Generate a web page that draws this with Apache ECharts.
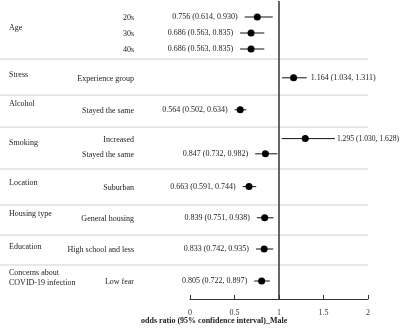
<!DOCTYPE html>
<html>
<head>
<meta charset="utf-8">
<script src="https://cdn.jsdelivr.net/npm/echarts@6/dist/echarts.min.js"></script>
<style>
  html, body { margin: 0; padding: 0; background: #fff; }
  #forest-chart { width: 400px; height: 331px; }
</style>
</head>
<body>
<div id="forest-chart"></div>
<script>
// data
const groupNames = ['Age', 'Stress', 'Alcohol', 'Smoking', 'Location', 'Housing type', 'Education', 'Concerns about\nCOVID-19 infection']
const itemNames = ['20s', '30s', '40s', 'Experience group', 'Stayed the same', 'Increased', 'Stayed the same', 'Suburban', 'General housing', 'High school and less', 'Low fear']
const oddsRatio = [0.756, 0.686, 0.686, 1.164, 0.564, 1.295, 0.847, 0.663, 0.839, 0.833, 0.805]
const ciLow = [0.614, 0.563, 0.563, 1.034, 0.502, 1.030, 0.732, 0.591, 0.751, 0.742, 0.722]
const ciHigh = [0.930, 0.835, 0.835, 1.311, 0.634, 1.628, 0.982, 0.744, 0.938, 0.935, 0.897]
const xTicks = [0, 0.5, 1, 1.5, 2]

// layout: vertical slot of each row / group label / separator (in row units)
const rowPos = [1, 2, 3, 4.8, 6.8, 8.6, 9.55, 11.6, 13.55, 15.5, 17.5]
const groupPos = [1.7, 4.65, 6.45, 8.9, 11.4, 13.3, 15.4, 17.3]
const sepPos = [3.63, 5.88, 7.88, 10.5, 12.75, 14.63, 16.5]

const FONT = '"Liberation Serif", "Times New Roman", serif'
const TEXT_COLOR = '#222'

// measure text to keep right side labels inside the canvas
const measureCtx = document.createElement('canvas').getContext('2d')
measureCtx.font = '8px ' + FONT
function textWidth (s) {
  return measureCtx.measureText(s).width
}

function ciLabel (i) {
  return oddsRatio[i].toFixed(3) + ' (' + ciLow[i].toFixed(3) + ', ' + ciHigh[i].toFixed(3) + ')'
}

const chart = echarts.init(document.getElementById('forest-chart'))

const option = {
  animation: false,
  textStyle: { fontFamily: FONT },
  grid: { left: 190, right: 32, top: 1, bottom: 32 },
  xAxis: {
    type: 'value',
    position: 'bottom',
    min: xTicks[0],
    max: xTicks[xTicks.length - 1],
    interval: 0.5,
    axisLine: { onZero: false, lineStyle: { color: '#333', width: 1 } },
    axisTick: { inside: true, length: 4, lineStyle: { color: '#333' } },
    axisLabel: { color: '#333', fontSize: 8, fontFamily: FONT, margin: 10 },
    splitLine: { show: false }
  },
  yAxis: {
    type: 'value',
    inverse: true,
    min: 0,
    max: 18.625,
    show: false
  },
  graphic: [{
    type: 'text',
    left: 141,
    top: 317,
    style: {
      text: 'odds ratio (95% confidence interval)_Male',
      font: 'bold 8px ' + FONT,
      fill: TEXT_COLOR
    }
  }],
  series: [
    {
      // separator lines between groups
      type: 'custom',
      clip: false,
      silent: true,
      data: sepPos.map(p => [0, p]),
      encode: { x: 0, y: 1 },
      renderItem (params, api) {
        const y = api.coord([0, api.value(1)])[1]
        const xEnd = api.coord([2, 0])[0]
        return {
          type: 'line',
          shape: { x1: 0, y1: y, x2: xEnd, y2: y },
          style: { stroke: '#cfcfcf', lineWidth: 1 }
        }
      }
    },
    {
      // group names on the far left
      type: 'custom',
      clip: false,
      silent: true,
      data: groupNames.map((g, i) => [0, groupPos[i]]),
      encode: { x: 0, y: 1 },
      renderItem (params, api) {
        const y = api.coord([0, api.value(1)])[1]
        return {
          type: 'text',
          style: {
            x: 9,
            y: y,
            text: groupNames[params.dataIndex],
            font: '8px ' + FONT,
            fill: TEXT_COLOR,
            align: 'left',
            verticalAlign: 'middle',
            lineHeight: 10
          }
        }
      }
    },
    {
      // estimates with confidence intervals
      type: 'custom',
      clip: false,
      silent: true,
      data: itemNames.map((n, i) => [oddsRatio[i], ciLow[i], ciHigh[i], rowPos[i]]),
      encode: { x: [0, 1, 2], y: 3 },
      renderItem (params, api) {
        const i = params.dataIndex
        const row = api.value(3)
        const est = api.coord([api.value(0), row])
        const lo = api.coord([api.value(1), row])
        const hi = api.coord([api.value(2), row])
        const label = ciLabel(i)
        let labelX = lo[0] - 7
        let labelAlign = 'right'
        let fontSize = 8
        if (api.value(0) >= 1) {
          // right of the whisker, shrink a bit if it would run off the canvas
          const w = textWidth(label)
          labelAlign = 'left'
          labelX = Math.min(hi[0] + 4, 399 - w)
          if (labelX < hi[0] + 2) {
            labelX = hi[0] + 2
            fontSize = Math.max(7, 8 * (399 - labelX) / w)
          }
        }
        return {
          type: 'group',
          children: [
            {
              type: 'line',
              shape: { x1: lo[0], y1: lo[1], x2: hi[0], y2: hi[1] },
              style: { stroke: '#111', lineWidth: 1 }
            },
            {
              type: 'circle',
              shape: { cx: est[0], cy: est[1], r: 3.5 },
              style: { fill: '#000' }
            },
            {
              type: 'text',
              style: {
                x: labelX,
                y: est[1],
                text: label,
                font: fontSize.toFixed(2) + 'px ' + FONT,
                fill: TEXT_COLOR,
                align: labelAlign,
                verticalAlign: 'middle'
              }
            },
            {
              type: 'text',
              style: {
                x: 134,
                y: est[1] + 1,
                text: itemNames[i],
                font: '8px ' + FONT,
                fill: TEXT_COLOR,
                align: 'right',
                verticalAlign: 'middle'
              }
            }
          ]
        }
      },
      markLine: {
        silent: true,
        symbol: 'none',
        label: { show: false },
        lineStyle: { color: '#333', width: 1.5, type: 'solid' },
        data: [{ xAxis: 1 }]
      }
    }
  ]
}

chart.setOption(option)
</script>
</body>
</html>
